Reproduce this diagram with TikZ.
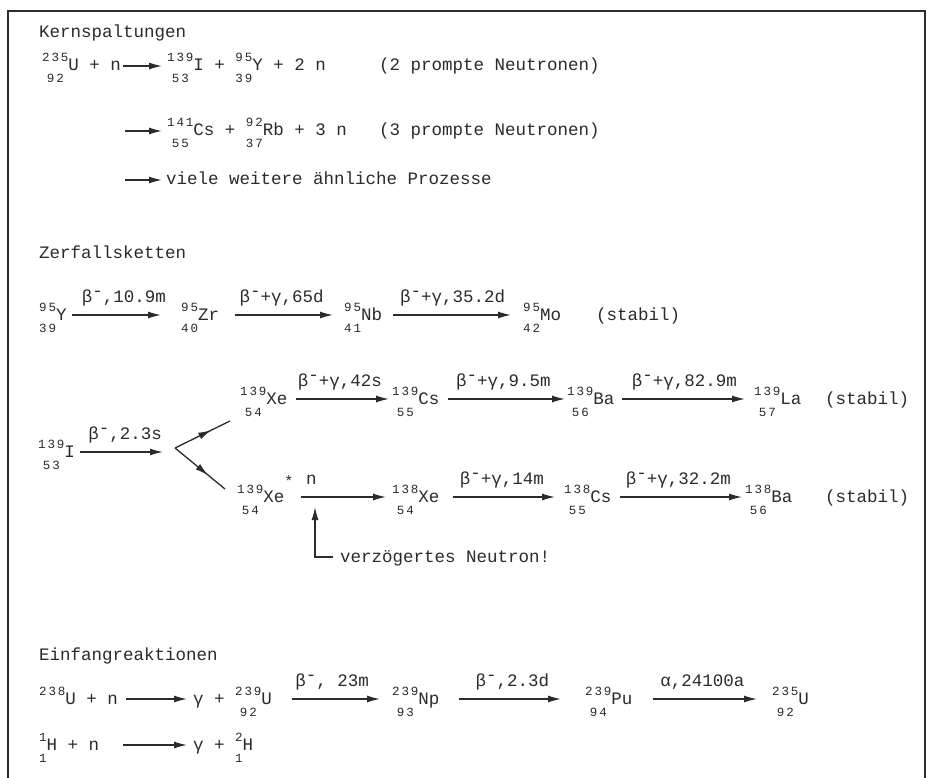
\documentclass[tikz,border=0pt]{standalone}
\usepackage{fontspec}
\setmainfont{Liberation Mono}
\newfontfamily\isofont[LetterSpace=15]{Liberation Mono}
\usetikzlibrary{arrows.meta,decorations.markings}

\definecolor{ink}{HTML}{2B2B2B}

% nuclide: mass number over charge number, left of the symbol
\newsavebox\massbox
\newsavebox\chargebox
\newlength\isowd
\newcommand{\nuc}[3]{{\isofont\fontsize{12.5}{14}\selectfont
  \sbox\massbox{#1}\sbox\chargebox{#2}%
  \setlength\isowd{\wd\massbox}%
  \ifdim\wd\chargebox>\isowd \setlength\isowd{\wd\chargebox}\fi
  \rlap{\raisebox{9pt}{\makebox[\isowd]{\usebox\massbox}}}%
  \raisebox{-12pt}{\makebox[\isowd]{\usebox\chargebox}}}#3}
\newcommand{\bmin}{β\raisebox{.32em}{-}}
\newcommand{\excited}{\raisebox{16pt}{\isofont\fontsize{15}{16}\selectfont *}}

\begin{document}
\begin{tikzpicture}[x=1pt,y=-1pt,
    every node/.style={font=\fontsize{17.5}{20}\selectfont, text=ink},
    chem/.style={inner sep=0pt, text height=10pt, text depth=0pt, anchor=west},
    lbl/.style={inner sep=0pt, text height=10pt, text depth=0pt, above=12pt},
    rx/.style={draw=ink, line width=1.3pt, -{Latex[length=13pt,width=7pt]}},
    fk/.style={draw=ink, line width=1.3pt, postaction={decorate},
      decoration={markings, mark=at position 0.66 with {\arrow{Latex[length=13pt,width=7pt]}}}}]
    \useasboundingbox[fill=white] (0,0) rectangle (931,778);
    \draw[ink, line width=1.7pt] (8,778) |- (925,11) -- (925,778);

    % Kernspaltungen
    \node[chem] (kern) at (39,33) {Kernspaltungen};
    \node[chem] (u235) at (42,66) {\nuc{235}{92}{U} + n};
    \node[chem] (fis1) at (167,66) {\nuc{139}{53}{I} + \nuc{95}{39}{Y} + 2 n};
    \node[chem] (prompt1) at (379,66) {(2 prompte Neutronen)};
    \coordinate (f2) at (125,131);
    \node[chem] (fis2) at (167,131) {\nuc{141}{55}{Cs} + \nuc{92}{37}{Rb} + 3 n};
    \node[chem] (prompt2) at (379,131) {(3 prompte Neutronen)};
    \coordinate (f3) at (125,180);
    \node[chem] (more) at (166,180) {viele weitere ähnliche Prozesse};
    \draw[rx, shorten <=2pt, shorten >=5pt] (u235) -- (fis1);
    \draw[rx, shorten >=5pt] (f2) -- (fis2);
    \draw[rx, shorten >=4pt] (f3) -- (more);

    % Zerfallsketten
    \node[chem] (zerf) at (39,253) {Zerfallsketten};
    \node[chem] (y95) at (39,315) {\nuc{95}{39}{Y}};
    \node[chem] (zr95) at (181,315) {\nuc{95}{40}{Zr}};
    \node[chem] (nb95) at (344,315) {\nuc{95}{41}{Nb}};
    \node[chem] (mo95) at (523,315) {\nuc{95}{42}{Mo}};
    \node[chem] (stab1) at (596,315) {(stabil)};
    \draw[rx, shorten <=5pt, shorten >=20pt] (y95) -- node[lbl] {\bmin,10.9m} (zr95);
    \draw[rx, shorten <=16pt, shorten >=11pt] (zr95) -- node[lbl] {\bmin+γ,65d} (nb95);
    \draw[rx, shorten <=11pt, shorten >=12pt] (nb95) -- node[lbl] {\bmin+γ,35.2d} (mo95);

    \node[chem] (xe139) at (240,399) {\nuc{139}{54}{Xe}};
    \node[chem] (cs139) at (392,399) {\nuc{139}{55}{Cs}};
    \node[chem] (ba139) at (567,399) {\nuc{139}{56}{Ba}};
    \node[chem] (la139) at (754,399) {\nuc{139}{57}{La}};
    \node[chem] (stab2) at (825,399) {(stabil)};
    \draw[rx, shorten <=8pt, shorten >=3pt] (xe139) -- node[lbl] {\bmin+γ,42s} (cs139);
    \draw[rx, shorten <=8pt, shorten >=2pt] (cs139) -- node[lbl] {\bmin+γ,9.5m} (ba139);
    \draw[rx, shorten <=7pt, shorten >=9pt] (ba139) -- node[lbl] {\bmin+γ,82.9m} (la139);

    \node[chem] (i139) at (38,452) {\nuc{139}{53}{I}};
    \coordinate (fork) at (175,448);
    \coordinate (up) at (230,421);
    \coordinate (dn) at (225,489);
    \draw[rx, shorten <=5pt, shorten >=12pt] (i139) -- node[lbl] {\bmin,2.3s} (i139 -| fork);
    \draw[fk] (fork) -- (up);
    \draw[fk] (fork) -- (dn);

    \node[chem] (xe139s) at (237,497) {\nuc{139}{54}{Xe}\excited};
    \node[chem] (xe138) at (392,497) {\nuc{138}{54}{Xe}};
    \node[chem] (cs138) at (564,497) {\nuc{138}{55}{Cs}};
    \node[chem] (ba138) at (745,497) {\nuc{138}{56}{Ba}};
    \node[chem] (stab3) at (825,497) {(stabil)};
    \draw[rx, shorten <=7pt, shorten >=6pt] (xe139s) -- node[lbl, pos=0.18] {n} (xe138);
    \draw[rx, shorten <=13pt, shorten >=9pt] (xe138) -- node[lbl] {\bmin+γ,14m} (cs138);
    \draw[rx, shorten <=8pt, shorten >=3pt] (cs138) -- node[lbl] {\bmin+γ,32.2m} (ba138);
    \node[chem] (vn) at (340,557) {verzögertes Neutron!};
    \coordinate (ntip) at (315,507);
    \draw[rx, shorten <=7pt] (vn.west) -| (ntip);

    % Einfangreaktionen
    \node[chem] (einf) at (39,655) {Einfangreaktionen};
    \node[chem] (u238) at (39,699) {\nuc{238}{}{U} + n};
    \node[chem] (u239) at (193,699) {γ + \nuc{239}{92}{U}};
    \node[chem] (np239) at (392,699) {\nuc{239}{93}{Np}};
    \node[chem] (pu239) at (585,699) {\nuc{239}{94}{Pu}};
    \node[chem] (u235b) at (772,699) {\nuc{235}{92}{U}};
    \draw[rx, shorten <=8pt, shorten >=6pt] (u238) -- (u239);
    \draw[rx, shorten <=20pt, shorten >=12pt] (u239) -- node[lbl] {\bmin, 23m} (np239);
    \draw[rx, shorten <=19pt, shorten >=24pt] (np239) -- node[lbl] {\bmin,2.3d} (pu239);
    \draw[rx, shorten <=20pt, shorten >=15pt] (pu239) -- node[lbl] {α,24100a} (u235b);
    \node[chem] (h1) at (39,745) {\nuc{1}{1}{H} + n};
    \node[chem] (h2) at (193,745) {γ + \nuc{2}{1}{H}};
    \draw[rx, shorten <=24pt, shorten >=6pt] (h1) -- (h2);
\end{tikzpicture}
\end{document}
